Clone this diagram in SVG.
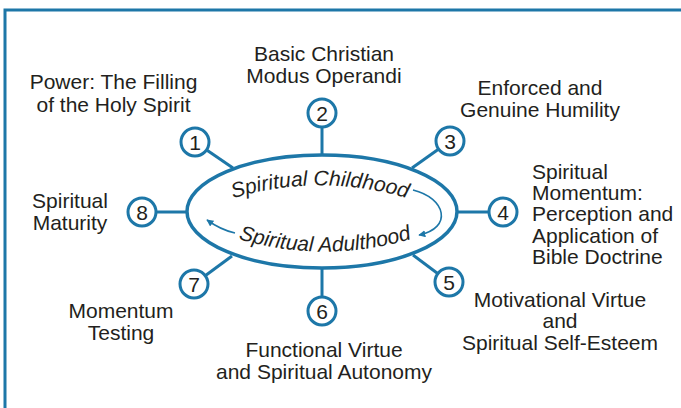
<svg xmlns="http://www.w3.org/2000/svg" width="681" height="408" viewBox="0 0 681 408">
<defs>
<style>
.ln{stroke:#1d77a8;stroke-width:3;fill:none}
.nd circle{fill:#fff;stroke:#1d77a8;stroke-width:3}
.num{font-family:"Liberation Sans",Arial,sans-serif;font-size:21px;fill:#231f20;text-anchor:middle}
.lb{font-family:"Liberation Sans",Arial,sans-serif;font-size:21px;fill:#231f20;text-anchor:middle}
.lbl{font-family:"Liberation Sans",Arial,sans-serif;font-size:21px;fill:#231f20;text-anchor:start}
.arc{font-family:"Liberation Sans",Arial,sans-serif;font-size:21px;font-style:italic;fill:#231f20}
.arw{stroke:#1d77a8;stroke-width:1.6;fill:none}
</style>
<marker id="ah" viewBox="0 0 10 10" refX="9" refY="5" markerWidth="7" markerHeight="7" orient="auto" markerUnits="userSpaceOnUse">
<path d="M0,0 L10,5 L0,10 z" fill="#1d77a8"/>
</marker>
<path id="topArc" d="M 190,215 A 300 300 0 0 1 450,215"/>
<path id="botArc" d="M 195,222 A 300 300 0 0 0 455,222"/>
</defs>
<rect x="5" y="10" width="700" height="420" fill="#fff" stroke="#1d77a8" stroke-width="3"/>
<g id="connectors">
<line class="ln" x1="195" y1="142" x2="233" y2="168"/>
<line class="ln" x1="322" y1="113" x2="322" y2="155"/>
<line class="ln" x1="450" y1="141" x2="412" y2="168"/>
<line class="ln" x1="457" y1="212" x2="503" y2="212"/>
<line class="ln" x1="449" y1="282" x2="413" y2="255"/>
<line class="ln" x1="322" y1="268" x2="322" y2="311"/>
<line class="ln" x1="194" y1="284" x2="232" y2="256"/>
<line class="ln" x1="142" y1="212" x2="187" y2="212"/>
<path class="arw" d="M 413,190 C 446,198 453,228 419,235" marker-end="url(#ah)"/>
<path class="arw" d="M 235,233 Q 221,230 207,220" marker-end="url(#ah)"/>
</g>
<g id="center">
<ellipse cx="322" cy="211.5" rx="135" ry="56.5" fill="none" stroke="#1d77a8" stroke-width="3.5"/>
<text class="arc"><textPath href="#topArc" startOffset="50%" text-anchor="middle">Spiritual Childhood</textPath></text>
<text class="arc"><textPath href="#botArc" startOffset="50%" text-anchor="middle">Spiritual Adulthood</textPath></text>
</g>
<g id="node1" class="nd"><circle cx="195" cy="142" r="14"/><text class="num" x="195" y="149.5">1</text>
<text class="lb" x="113.5" y="89">Power: The Filling</text><text class="lb" x="113.5" y="112">of the Holy Spirit</text></g>
<g id="node2" class="nd"><circle cx="322" cy="113" r="14"/><text class="num" x="322" y="120.5">2</text>
<text class="lb" x="324" y="61">Basic Christian</text><text class="lb" x="324" y="83">Modus Operandi</text></g>
<g id="node3" class="nd"><circle cx="450" cy="141" r="14"/><text class="num" x="450" y="148.5">3</text>
<text class="lb" x="540" y="95">Enforced and</text><text class="lb" x="540" y="117">Genuine Humility</text></g>
<g id="node4" class="nd"><circle cx="503" cy="212" r="14"/><text class="num" x="503" y="219.5">4</text>
<text class="lbl" x="532" y="179">Spiritual</text><text class="lbl" x="532" y="200">Momentum:</text><text class="lbl" x="532" y="221">Perception and</text><text class="lbl" x="532" y="243">Application of</text><text class="lbl" x="532" y="264">Bible Doctrine</text></g>
<g id="node5" class="nd"><circle cx="449" cy="282" r="14"/><text class="num" x="449" y="289.5">5</text>
<text class="lb" x="560" y="307">Motivational Virtue</text><text class="lb" x="560" y="328">and</text><text class="lb" x="560" y="350">Spiritual Self-Esteem</text></g>
<g id="node6" class="nd"><circle cx="322" cy="311" r="14"/><text class="num" x="322" y="318.5">6</text>
<text class="lb" x="324" y="357">Functional Virtue</text><text class="lb" x="324" y="379">and Spiritual Autonomy</text></g>
<g id="node7" class="nd"><circle cx="194" cy="284" r="14"/><text class="num" x="194" y="291.5">7</text>
<text class="lb" x="121" y="318">Momentum</text><text class="lb" x="121" y="340">Testing</text></g>
<g id="node8" class="nd"><circle cx="142" cy="212" r="14"/><text class="num" x="142" y="219.5">8</text>
<text class="lb" x="70" y="208">Spiritual</text><text class="lb" x="70" y="230">Maturity</text></g>
</svg>
